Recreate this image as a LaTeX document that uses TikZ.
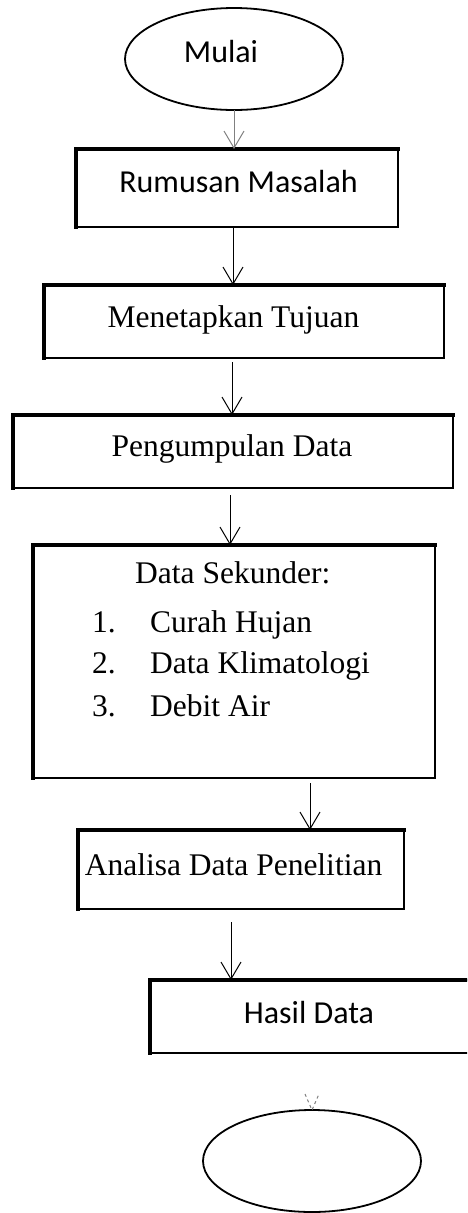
\documentclass[tikz,border=0pt]{standalone}
\usepackage{fontspec}
\setmainfont{Liberation Serif}
\newfontfamily\calfont{Carlito}
\usetikzlibrary{arrows.meta,shapes.geometric}
\begin{document}
\begin{tikzpicture}[x=1pt,y=-1pt,
  boxn/.style={draw,line width=1.5pt,inner sep=0pt,outer sep=0pt},
  edgeln/.style={line width=3.5pt,line cap=rect},
  serif/.style={font=\fontsize{31.5pt}{36pt}\selectfont,inner sep=0pt,anchor=base},
  sans/.style={font=\calfont\fontsize{32pt}{38pt}\selectfont,inner sep=0pt,anchor=base},
  arr/.style={-{Straight Barb[length=17pt,width=20pt]},line width=1pt},
  term/.style={ellipse,draw,line width=1.8pt,minimum width=218pt,minimum height=102pt,inner sep=0pt,outer sep=0pt}]
\useasboundingbox (0,0) rectangle (467,1213);
\clip (0,0) rectangle (467,1213);
% terminals
\node[term] (e1) at (234,59) {};
\node[term] (e2) at (312,1161) {};
% boxes
\node[boxn,minimum width=322pt,minimum height=78pt] (b1) at (237,188) {};
\node[boxn,minimum width=400pt,minimum height=73pt] (b2) at (244,321.5) {};
\node[boxn,minimum width=440pt,minimum height=73pt] (b3) at (233,451.5) {};
\node[boxn,minimum width=402pt,minimum height=233pt] (b4) at (234,661.5) {};
\node[boxn,minimum width=326pt,minimum height=79pt] (b5) at (241,869.5) {};
\node[boxn,minimum width=340pt,minimum height=73pt] (b6) at (320,1016.5) {};
\foreach \n in {b1,b2,b3,b4,b5,b6}
  \draw[edgeln] (\n.south west) -- (\n.north west) -- (\n.north east);
% texts
\node[sans] (t1) at (221,62) {Mulai};
\node[sans] (t2) at (238.5,192) {Rumusan Masalah};
\node[serif] (t3) at (233.5,327) {Menetapkan Tujuan};
\node[serif] (t4) at (232,456) {Pengumpulan Data};
\node[serif,anchor=base west] (t5) at (135,583) {Data Sekunder:};
\node[serif,anchor=base west] (n1) at (92,632) {1.};
\node[serif,anchor=base west] (c1) at (150,632) {Curah Hujan};
\node[serif,anchor=base west] (n2) at (92,673) {2.};
\node[serif,anchor=base west] (c2) at (150,673) {Data Klimatologi};
\node[serif,anchor=base west] (n3) at (92,716) {3.};
\node[serif,anchor=base west] (c3) at (150,716) {Debit Air};
\node[serif] (t6) at (233.5,875) {Analisa Data Penelitian};
\node[sans] (t7) at (309,1023) {Hasil Data};
% connectors
\draw[arr,gray] (e1.south) -- (b1.north -| e1.south);
\draw[arr] (b1.south -| 233,0) -- (b2.north -| 233,0);
\draw[arr,shorten <=4pt] (b2.south -| 232,0) -- (b3.north -| 232,0);
\draw[arr,shorten <=7pt] (b3.south -| 230,0) -- (b4.north -| 230,0);
\draw[arr,shorten <=5pt] (b4.south -| 310,0) -- (b5.north -| 310,0);
\draw[arr,shorten <=13pt] (b5.south -| 231,0) -- (b6.north -| 231,0);
\coordinate (v1) at (305,1094);
\coordinate (v2) at (319,1094);
\draw[gray,dashed,line width=1pt] (v1) -- (e2.north) -- (v2);
\end{tikzpicture}
\end{document}
